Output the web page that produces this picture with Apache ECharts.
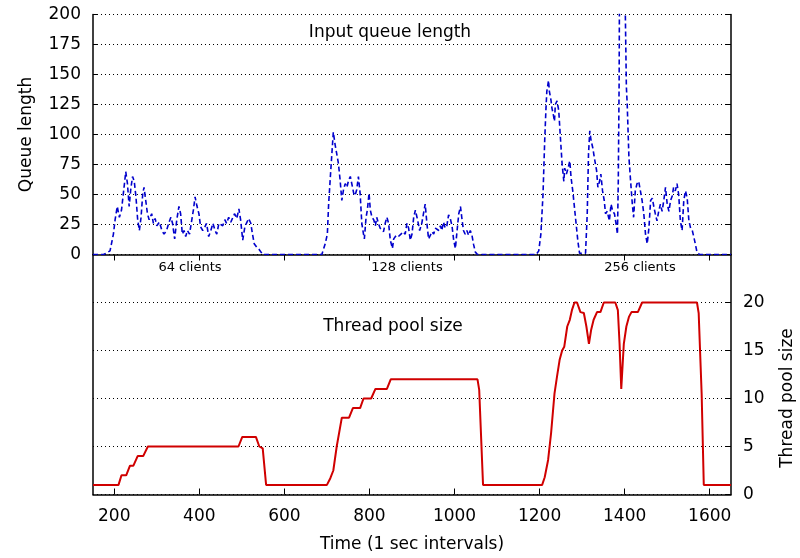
<!DOCTYPE html>
<html>
<head>
<meta charset="utf-8">
<script src="https://cdn.jsdelivr.net/npm/echarts@6/dist/echarts.min.js"></script>
<style>html,body{margin:0;padding:0;background:#fff}#c{width:800px;height:558px}</style>
</head>
<body>
<div id="c"></div>
<script>
// ---- data ----
var xTicks = [200, 400, 600, 800, 1000, 1200, 1400, 1600];
var queueTicks = [0, 25, 50, 75, 100, 125, 150, 175, 200];
var poolTicks = [0, 5, 10, 15, 20];

var queueTime = [150,175,185,190,198,202,207,212,217,223,227,231,235,239,243,247,251,255,259,263,267,270,274,278,282,288,292,296,300,306,312,317,323,328,333,337,342,347,352,356,360,364,368,372,377,381,386,390,394,399,403,408,413,417,422,427,432,437,441,446,450,455,460,464,469,474,479,483,488,493,497,502,507,512,516,521,525,529,535,541,549,
688,696,701,704,709,715,719,723,727,731,735,739,743,747,751,755,759,763,766,770,774,778,782,786,788,792,795,799,802,806,810,814,817,821,825,829,833,837,841,845,849,854,857,863,868,874,879,884,888,892,896,900,904,908,913,918,923,927,931,935,939,943,947,951,955,959,963,967,970,974,978,982,986,990,994,998,1002,1006,1010,1014,1017,1021,1025,1029,1033,1037,1041,1045,1049,1054,
1192,1198,1203,1208,1212,1215,1217,1221,1223,1227,1229,1232,1235,1237,1241,1245,1249,1253,1257,1259,1263,1267,1271,1274,1278,1282,1286,1290,1294,1308,1312,1315,1318,1321,1325,1330,1334,1337,1341,1344,1348,1352,1355,1359,1364,1368,1372,1376,1380,1383,1385,1387,1388,1400,1404,1406,1410,1414,1418,1421,1425,1429,1433,1437,1441,1445,1449,1453,1457,1461,1465,1469,1472,1476,1480,1484,1488,1492,1496,1500,1504,1508,1512,1515,1519,1523,1527,1531,1535,1539,1543,1547,1551,1555,1559,1563,1566,1570,1576,1650];
var queueLength = [0,0,2,3,17,29,40,31,37,56,69,59,40,55,65,61,48,29,20,31,51,56,45,34,29,34,26,30,24,27,20,17,20,26,31,26,13,29,40,34,17,20,15,20,17,26,37,48,41,34,23,20,23,26,15,20,26,20,17,26,27,24,29,26,31,27,31,34,30,38,29,12,23,27,30,26,17,9,6,4,0,
0,9,17,42,70,102,92,84,76,62,45,54,59,56,62,65,65,51,49,54,65,51,26,17,13,31,37,51,37,31,29,24,31,26,22,23,19,26,31,26,12,5,13,16,15,17,19,17,26,22,12,17,31,37,29,20,26,34,42,26,13,16,19,17,22,23,20,24,20,27,22,24,33,30,24,12,5,20,34,40,31,20,17,20,16,20,16,8,2,0,
0,3,17,50,95,122,136,145,136,128,122,117,111,125,128,120,97,75,61,72,67,72,78,64,53,39,25,11,1,1,34,84,103,95,89,78,70,56,61,67,53,45,34,36,28,42,36,34,25,17,61,145,240,240,140,125,81,61,42,31,53,59,61,53,45,34,17,9,22,45,47,39,34,28,36,42,36,45,56,42,36,45,49,56,53,59,50,28,20,45,53,47,28,22,20,14,9,2,0,0];

var poolTime = [150,210,217,228,237,245,255,268,279,492,501,533,541,549,557,700,708,715,723,735,752,761,778,786,804,814,841,850,1054,1058,1067,1206,1212,1220,1227,1235,1241,1247,1253,1258,1265,1271,1276,1282,1288,1296,1304,1310,1316,1321,1327,1335,1343,1351,1378,1384,1388,1392,1398,1404,1410,1416,1431,1441,1570,1574,1581,1586,1650];
var poolSize = [1,1,2,2,3,3,4,4,5,5,6,6,5,4.8,1,1,1.7,2.5,5,8,8,9,9,10,10,11,11,12,12,10.9,1,1,1.8,3.6,6.4,10.5,12.3,14,15,15.4,17.5,18.2,19.2,20,20,19,18.9,17.5,15.7,17.1,18.2,19,19,20,20,19.2,15.7,11,15.7,17.5,18.5,19,19,20,20,18.9,10.5,1,1];

function zip(a, b) { var r = []; for (var i = 0; i < a.length; i++) r.push([a[i], b[i]]); return r; }
function plain(v) { return String(v); }

var FONT = 'DejaVu Sans';
var dotted = { color: '#000', width: 1, type: [1, 3] };
var chart = echarts.init(document.getElementById('c'), null, { renderer: 'canvas' });
var L = 93, R = 69, T = 14.5, H = 240;

chart.setOption({
  animation: false,
  textStyle: { fontFamily: FONT },
  grid: [
    { left: L, right: R, top: T, height: H, containLabel: false },
    { left: L, right: R, top: T + H, height: H, containLabel: false }
  ],
  xAxis: [
    { type: 'value', gridIndex: 0, position: 'top', min: 150, max: 1650,
      axisLine: { show: true, lineStyle: { color: '#000', width: 1.5 } },
      axisTick: { show: true, inside: true, length: 6, customValues: xTicks, lineStyle: { color: '#000' } },
      axisLabel: { show: false }, splitLine: { show: false } },
    { type: 'value', gridIndex: 1, position: 'bottom', min: 150, max: 1650,
      name: 'Time (1 sec intervals)', nameLocation: 'middle', nameGap: 42,
      nameTextStyle: { fontFamily: FONT, fontSize: 17, color: '#000' },
      axisLine: { show: true, onZero: false, lineStyle: { color: '#000', width: 1.5 } },
      axisTick: { show: true, inside: true, length: 6, customValues: xTicks, lineStyle: { color: '#000' } },
      axisLabel: { show: true, customValues: xTicks, formatter: plain, margin: 14, fontFamily: FONT, fontSize: 17, color: '#000' },
      splitLine: { show: false } }
  ],
  yAxis: [
    { type: 'value', gridIndex: 0, position: 'left', min: 0, max: 200, interval: 25,
      name: 'Queue length', nameLocation: 'middle', nameGap: 58,
      nameTextStyle: { fontFamily: FONT, fontSize: 17, color: '#000' },
      axisLine: { show: true, onZero: false, lineStyle: { color: '#000', width: 1.5 } },
      axisTick: { show: true, inside: true, length: 5, lineStyle: { color: '#000' } },
      axisLabel: { show: true, formatter: plain, margin: 12, fontFamily: FONT, fontSize: 17, color: '#000' },
      splitLine: { show: true, lineStyle: dotted } },
    { type: 'value', gridIndex: 0, position: 'right', min: 0, max: 200, interval: 25,
      axisLine: { show: true, onZero: false, lineStyle: { color: '#000', width: 1.5 } },
      axisTick: { show: true, inside: true, length: 5, lineStyle: { color: '#000' } },
      axisLabel: { show: false }, splitLine: { show: false } },
    { type: 'value', gridIndex: 1, position: 'left', min: 0, max: 25, interval: 5,
      axisLine: { show: true, onZero: false, lineStyle: { color: '#000', width: 1.5 } },
      axisTick: { show: false }, axisLabel: { show: false }, splitLine: { show: false } },
    { type: 'value', gridIndex: 1, position: 'right', min: 0, max: 25, interval: 5,
      axisLine: { show: true, onZero: false, lineStyle: { color: '#000', width: 1.5 } },
      axisTick: { show: true, inside: true, length: 5, customValues: poolTicks, lineStyle: { color: '#000' } },
      axisLabel: { show: true, customValues: poolTicks, formatter: plain, margin: 12, fontFamily: FONT, fontSize: 17, color: '#000' },
      splitLine: { show: true, lineStyle: dotted } }
  ],
  series: [
    { type: 'line', xAxisIndex: 0, yAxisIndex: 0, data: zip(queueTime, queueLength),
      showSymbol: false, symbol: 'none', clip: true,
      lineStyle: { color: '#0000cc', width: 1.6, type: [5, 3] } },
    { type: 'line', xAxisIndex: 1, yAxisIndex: 3, data: zip(poolTime, poolSize),
      showSymbol: false, symbol: 'none', clip: true,
      lineStyle: { color: '#d00000', width: 2 } }
  ],
  graphic: [
    { type: 'text', x: 390, y: 33, style: { text: 'Input queue length', font: '17px "' + FONT + '"', fill: '#000', align: 'center', verticalAlign: 'middle' } },
    { type: 'text', x: 393, y: 327, style: { text: 'Thread pool size', font: '17px "' + FONT + '"', fill: '#000', align: 'center', verticalAlign: 'middle' } },
    { type: 'text', x: 190, y: 268, style: { text: '64 clients', font: '13px "' + FONT + '"', fill: '#000', align: 'center', verticalAlign: 'middle' } },
    { type: 'text', x: 407, y: 268, style: { text: '128 clients', font: '13px "' + FONT + '"', fill: '#000', align: 'center', verticalAlign: 'middle' } },
    { type: 'text', x: 640, y: 268, style: { text: '256 clients', font: '13px "' + FONT + '"', fill: '#000', align: 'center', verticalAlign: 'middle' } },
    { type: 'text', x: 788, y: 398, rotation: Math.PI / 2, style: { text: 'Thread pool size', font: '17px "' + FONT + '"', fill: '#000', align: 'center', verticalAlign: 'middle' } }
  ]
});
</script>
</body>
</html>
